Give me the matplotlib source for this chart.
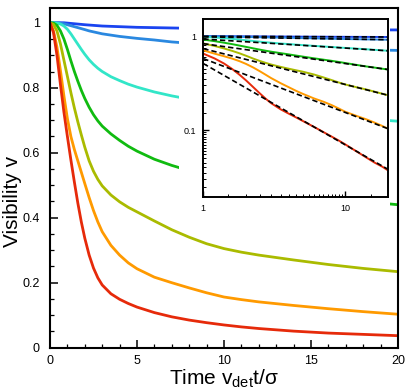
import matplotlib
matplotlib.use("Agg")
import matplotlib.pyplot as plt
from matplotlib.patches import Rectangle
from matplotlib.ticker import FixedLocator, FixedFormatter, NullFormatter
import numpy as np

plt.rcParams['font.family'] = ['Liberation Sans', 'DejaVu Sans']
plt.rcParams['mathtext.fontset'] = 'custom'
plt.rcParams['mathtext.rm'] = 'Liberation Sans'
plt.rcParams['mathtext.it'] = 'Liberation Sans:italic'

# ---- data ----
time = [0, 0.2, 0.4, 0.6, 0.8, 1.0, 1.2, 1.4, 1.6, 1.8, 2.0, 2.25, 2.5, 2.75, 3.0,
        3.5, 4.0, 4.5, 5.0, 6, 7, 8, 9, 10, 11, 12, 14, 16, 18, 20]

v_darkblue = [1.0, 1.0, 1.0, 1.0, 1.0, 0.999, 0.998, 0.997, 0.996, 0.995, 0.994,
              0.993, 0.992, 0.991, 0.990, 0.989, 0.988, 0.987, 0.986, 0.985, 0.984,
              0.983, 0.982, 0.982, 0.981, 0.981, 0.980, 0.979, 0.978, 0.978]
v_lightblue = [1.0, 1.0, 1.0, 0.999, 0.997, 0.994, 0.991, 0.988, 0.985, 0.982, 0.979,
               0.975, 0.972, 0.969, 0.966, 0.962, 0.958, 0.955, 0.952, 0.947, 0.941,
               0.937, 0.933, 0.930, 0.928, 0.926, 0.922, 0.920, 0.917, 0.915]
v_cyan = [1.0, 1.0, 0.999, 0.996, 0.990, 0.980, 0.966, 0.950, 0.934, 0.918, 0.903,
          0.886, 0.872, 0.860, 0.850, 0.834, 0.822, 0.811, 0.802, 0.787, 0.775,
          0.765, 0.756, 0.748, 0.741, 0.735, 0.724, 0.714, 0.705, 0.697]
v_green = [1.0, 0.999, 0.992, 0.975, 0.950, 0.918, 0.883, 0.850, 0.820, 0.792, 0.767,
           0.740, 0.717, 0.698, 0.682, 0.658, 0.638, 0.620, 0.605, 0.580, 0.561,
           0.545, 0.530, 0.516, 0.504, 0.493, 0.475, 0.462, 0.450, 0.440]
v_yellow = [1.0, 0.995, 0.975, 0.935, 0.885, 0.835, 0.785, 0.738, 0.695, 0.655, 0.617,
            0.575, 0.543, 0.518, 0.498, 0.470, 0.449, 0.432, 0.418, 0.390, 0.363,
            0.340, 0.320, 0.305, 0.294, 0.285, 0.270, 0.256, 0.244, 0.234]
v_orange = [1.0, 0.975, 0.925, 0.853, 0.775, 0.705, 0.650, 0.610, 0.575, 0.540, 0.505,
            0.462, 0.422, 0.387, 0.357, 0.315, 0.285, 0.261, 0.243, 0.217, 0.200,
            0.184, 0.169, 0.156, 0.148, 0.141, 0.130, 0.120, 0.111, 0.103]
v_red = [1.0, 0.970, 0.900, 0.810, 0.725, 0.650, 0.578, 0.510, 0.445, 0.387, 0.337,
         0.285, 0.245, 0.215, 0.193, 0.166, 0.149, 0.136, 0.125, 0.108, 0.095,
         0.085, 0.077, 0.070, 0.064, 0.059, 0.051, 0.045, 0.041, 0.037]

series = [v_darkblue, v_lightblue, v_cyan, v_green, v_yellow, v_orange, v_red]
colors = ['#1a44f0', '#2a88e0', '#32e6c8', '#10bb10', '#aabb00', '#ff9a00', '#e62a0a']

# power-law guide lines in the inset: value at t=1 and at t=20
fit_t = [1, 20]
fit_start = [0.996, 0.981, 0.93, 0.83, 0.735, 0.576, 0.51]
fit_end = [0.978, 0.915, 0.697, 0.440, 0.234, 0.103, 0.038]

main_yticks = [0, 0.2, 0.4, 0.6, 0.8, 1.0]
main_yticklabels = ['0', '0.2', '0.4', '0.6', '0.8', '1']
main_xticks = [0, 5, 10, 15, 20]
inset_xticks = [1, 10]
inset_xticklabels = ['1', '10']
inset_yticks = [0.1, 1]
inset_yticklabels = ['0.1', '1']

# ---- figure ----
W, H = 407, 391
fig = plt.figure(figsize=(W / 100, H / 100), dpi=100)

def fx(px):
    return px / W

def fy(py):
    return 1 - py / H

L, R, T, B = 50, 398, 7.5, 347.7
ax = fig.add_axes([fx(L), fy(B), fx(R) - fx(L), fy(T) - fy(B)])
for vals, c in zip(series, colors):
    ax.plot(time, vals, color=c, lw=2.0, solid_capstyle='butt',
            solid_joinstyle='round', zorder=2)

ax.set_xlim(0, 20)
ax.set_ylim(0, 1.047)
ax.set_yticks(main_yticks)
ax.set_yticklabels(main_yticklabels)
ax.set_xticks(main_xticks)
ax.set_xticklabels([str(v) for v in main_xticks])
ax.xaxis.set_minor_locator(FixedLocator(np.arange(0, 20.01, 1)))
ax.yaxis.set_minor_locator(FixedLocator(np.arange(0, 1.01, 0.05)))
ax.tick_params(which='major', direction='in', length=5.5, width=1.1, labelsize=9)
ax.tick_params(which='minor', direction='in', length=3, width=0.9)
ax.tick_params(axis='y', which='major', pad=7.5)
ax.tick_params(axis='x', which='major', pad=5)
for s in ax.spines.values():
    s.set_linewidth(1.5)
ax.set_xlabel('Time v$_{\\rm det}$t/σ', fontsize=15, labelpad=1)
ax.set_ylabel('Visibility v', fontsize=15)
ax.yaxis.set_label_coords(-0.08, 0.43)

# white box behind the inset
bx0, bx1, by0 = 179, 390, 215
ax.add_patch(Rectangle(((bx0 - L) / (R - L), (B - by0) / (B - T)),
                       (bx1 - bx0) / (R - L), 1 - (B - by0) / (B - T),
                       transform=ax.transAxes, facecolor='white',
                       edgecolor='none', zorder=2.2))

# ---- inset ----
iL, iR, iT, iB = 203.3, 388.3, 19, 196.7
ins = fig.add_axes([fx(iL), fy(iB), fx(iR) - fx(iL), fy(iT) - fy(iB)])
ins.set_xscale('log')
ins.set_yscale('log')
t_arr = np.array(time)
for vals, c, a, b in zip(series, colors, fit_start, fit_end):
    m = t_arr >= 1
    ins.plot(t_arr[m], np.array(vals)[m], color=c, lw=1.4, zorder=2)
    ins.plot(fit_t, [a, b], color='black', lw=1.2, dashes=(3.2, 1.8), zorder=3)
ins.set_xlim(1, 20)
ins.set_ylim(0.0195, 1.52)
ins.xaxis.set_major_locator(FixedLocator(inset_xticks))
ins.xaxis.set_major_formatter(FixedFormatter(inset_xticklabels))
ins.yaxis.set_major_locator(FixedLocator(inset_yticks))
ins.yaxis.set_major_formatter(FixedFormatter(inset_yticklabels))
ins.xaxis.set_minor_locator(FixedLocator(list(np.arange(1.5, 10, 0.5)) + [15]))
ins.yaxis.set_minor_locator(FixedLocator(list(np.arange(0.02, 0.1, 0.005)) +
                                         list(np.arange(0.15, 1.0, 0.05))))
ins.xaxis.set_minor_formatter(NullFormatter())
ins.yaxis.set_minor_formatter(NullFormatter())
ins.tick_params(which='major', direction='in', length=4, width=1.0, labelsize=6.5, pad=5)
ins.tick_params(which='minor', direction='in', length=2.2, width=0.7)
for s in ins.spines.values():
    s.set_linewidth(1.4)

fig.savefig('out.png', dpi=100)
